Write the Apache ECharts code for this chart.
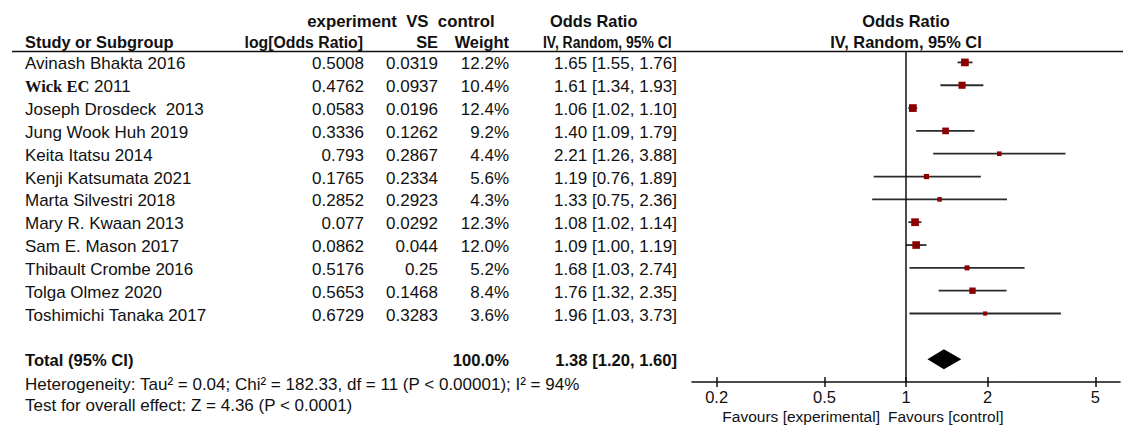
<!DOCTYPE html>
<html>
<head>
<meta charset="utf-8">
<script src="https://cdn.jsdelivr.net/npm/echarts@6/dist/echarts.min.js"></script>
<style>
html,body{margin:0;padding:0;background:#fff;}
#chart{width:1123px;height:425px;}
</style>
</head>
<body>
<div id="chart"></div>
<script>
// ---------- data ----------
const studies = ['Avinash Bhakta 2016','Wick EC 2011','Joseph Drosdeck  2013','Jung Wook Huh 2019','Keita Itatsu 2014','Kenji Katsumata 2021','Marta Silvestri 2018','Mary R. Kwaan 2013','Sam E. Mason 2017','Thibault Crombe 2016','Tolga Olmez 2020','Toshimichi Tanaka 2017'];
const logOR   = [0.5008,0.4762,0.0583,0.3336,0.793,0.1765,0.2852,0.077,0.0862,0.5176,0.5653,0.6729];
const seVals  = [0.0319,0.0937,0.0196,0.1262,0.2867,0.2334,0.2923,0.0292,0.044,0.25,0.1468,0.3283];
const weights = [12.2,10.4,12.4,9.2,4.4,5.6,4.3,12.3,12.0,5.2,8.4,3.6];
const orVals  = [1.65,1.61,1.06,1.40,2.21,1.19,1.33,1.08,1.09,1.68,1.76,1.96];
const ciLow   = [1.55,1.34,1.02,1.09,1.26,0.76,0.75,1.02,1.00,1.03,1.32,1.03];
const ciHigh  = [1.76,1.93,1.10,1.79,3.88,1.89,2.36,1.14,1.19,2.74,2.35,3.73];
const totalLabel = 'Total (95% CI)';
const totalWeight = 100.0;
const totalOR = 1.38, totalLow = 1.20, totalHigh = 1.60;
const heterogeneityText = 'Heterogeneity: Tau\u00b2 = 0.04; Chi\u00b2 = 182.33, df = 11 (P < 0.00001); I\u00b2 = 94%';
const overallText = 'Test for overall effect: Z = 4.36 (P < 0.0001)';
const axisTicks = [0.2, 0.5, 1, 2, 5];
const favoursLeft = 'Favours [experimental]';
const favoursRight = 'Favours [control]';

// ---------- styling ----------
const TXT = '#111';
const SANS = '"Liberation Sans", Arial, sans-serif';
const fReg = '17px ' + SANS;
const fBold = 'bold 16.4px ' + SANS;
const totalRow = studies.length + 1;

const fmtCI = (o, l, h) => o.toFixed(2) + ' [' + l.toFixed(2) + ', ' + h.toFixed(2) + ']';

// table rows built from the arrays
const tableRows = studies.map((s, i) => ({
  row: i, name: s, lg: String(logOR[i]), se: String(seVals[i]),
  w: weights[i].toFixed(1) + '%', ci: fmtCI(orVals[i], ciLow[i], ciHigh[i]), bold: false
}));
tableRows.push({row: totalRow, name: totalLabel, lg: '', se: '', w: totalWeight.toFixed(1) + '%',
  ci: fmtCI(totalOR, totalLow, totalHigh), bold: true});

const columns = [
  {key: 'name', x: 25, align: 'left'},
  {key: 'lg', x: 364, align: 'right'},
  {key: 'se', x: 438, align: 'right'},
  {key: 'w', x: 509, align: 'right'},
  {key: 'ci', x: 677, align: 'right'}
];

const tickVals = axisTicks.map(Math.log10);

const chart = echarts.init(document.getElementById('chart'), null, {renderer: 'svg'});

const option = {
  animation: false,
  backgroundColor: '#fff',
  grid: [
    {left: 692, right: 3, top: 51, bottom: 43},
    {left: 0, width: 700, top: 51 - 2 * (331 / 14.5), bottom: 43}
  ],
  xAxis: [
    {
      gridIndex: 0, type: 'value', min: -0.79, max: 0.79, position: 'bottom',
      splitLine: {show: false},
      axisLine: {show: true, onZero: false, lineStyle: {color: '#111', width: 1.6}},
      axisTick: {show: true, customValues: tickVals, length: 5, lineStyle: {color: '#111', width: 1.5}},
      axisLabel: {show: true, customValues: tickVals, margin: 6,
        color: TXT, fontSize: 16.5, fontFamily: SANS,
        formatter: v => String(Number(Math.pow(10, v).toPrecision(3)))}
    },
    {
      gridIndex: 0, type: 'value', min: -0.79, max: 0.79, position: 'bottom',
      splitLine: {show: false}, axisLine: {show: false, onZero: false}, axisLabel: {show: false},
      axisTick: {show: true, inside: true, customValues: tickVals, length: 5, lineStyle: {color: '#111', width: 1.5}}
    },
    {gridIndex: 1, type: 'value', min: 0, max: 700, show: false}
  ],
  yAxis: [
    {gridIndex: 0, type: 'value', inverse: true, min: -0.5, max: 14, show: false},
    {gridIndex: 1, type: 'value', inverse: true, min: -2.5, max: 14, show: false}
  ],
  graphic: [
    {type: 'line', silent: true, shape: {x1: 12, y1: 51.5, x2: 1123, y2: 51.5}, style: {stroke: '#111', lineWidth: 1.6}},
    {type: 'text', x: 401, y: 21, style: {text: 'experiment  VS  control', font: 'bold 16.8px ' + SANS, fill: TXT, align: 'center', verticalAlign: 'middle'}},
    {type: 'text', x: 550, y: 21, style: {text: 'Odds Ratio', font: fBold, fill: TXT, align: 'left', verticalAlign: 'middle'}},
    {type: 'text', x: 25, y: 42, style: {text: 'Study or Subgroup', font: fBold, fill: TXT, align: 'left', verticalAlign: 'middle'}},
    {type: 'text', x: 363, y: 42, style: {text: 'log[Odds Ratio]', font: 'bold 15.8px ' + SANS, fill: TXT, align: 'right', verticalAlign: 'middle'}},
    {type: 'text', x: 438, y: 42, style: {text: 'SE', font: fBold, fill: TXT, align: 'right', verticalAlign: 'middle'}},
    {type: 'text', x: 509, y: 42, style: {text: 'Weight', font: fBold, fill: TXT, align: 'right', verticalAlign: 'middle'}},
    {type: 'text', x: 543, y: 42, scaleX: 0.85, originX: 0, originY: 0, style: {text: 'IV, Random, 95% CI', font: fBold, fill: TXT, align: 'left', verticalAlign: 'middle'}},
    {type: 'text', x: 906, y: 21, style: {text: 'Odds Ratio', font: fBold, fill: TXT, align: 'center', verticalAlign: 'middle'}},
    {type: 'text', x: 906, y: 42, style: {text: 'IV, Random, 95% CI', font: fBold, fill: TXT, align: 'center', verticalAlign: 'middle'}},
    {type: 'text', x: 25, y: 384, style: {text: heterogeneityText, font: fReg, fill: TXT, align: 'left', verticalAlign: 'middle'}},
    {type: 'text', x: 25, y: 405, style: {text: overallText, font: fReg, fill: TXT, align: 'left', verticalAlign: 'middle'}},
    {type: 'text', x: 880, y: 416, style: {text: favoursLeft, font: '15.5px ' + SANS, fill: TXT, align: 'right', verticalAlign: 'middle'}},
    {type: 'text', x: 888, y: 416, style: {text: favoursRight, font: '15.5px ' + SANS, fill: TXT, align: 'left', verticalAlign: 'middle'}}
  ],
  series: [
    // study CIs and weight squares
    {
      type: 'custom', xAxisIndex: 0, yAxisIndex: 0, silent: true,
      data: studies.map((s, i) => [Math.log10(ciLow[i]), Math.log10(ciHigh[i]), Math.log10(orVals[i]), i, weights[i]]),
      encode: {x: [0, 1, 2], y: 3},
      renderItem: function (params, api) {
        const y = api.value(3);
        const a = api.coord([api.value(0), y]);
        const b = api.coord([api.value(1), y]);
        const c = api.coord([api.value(2), y]);
        const s = 2.2 * Math.sqrt(api.value(4));
        return {type: 'group', children: [
          {type: 'line', shape: {x1: a[0], y1: a[1], x2: b[0], y2: b[1]}, style: {stroke: '#2b2b2b', lineWidth: 1.8}},
          {type: 'rect', shape: {x: c[0] - s / 2, y: c[1] - s / 2, width: s, height: s}, style: {fill: '#8b0000'}}
        ]};
      }
    },
    // pooled diamond + line of no effect
    {
      type: 'custom', xAxisIndex: 0, yAxisIndex: 0, silent: true,
      data: [[Math.log10(totalLow), Math.log10(totalHigh), Math.log10(totalOR), totalRow]],
      encode: {x: [0, 1, 2], y: 3},
      renderItem: function (params, api) {
        const y = api.value(3);
        const a = api.coord([api.value(0), y]);
        const b = api.coord([api.value(1), y]);
        const c = api.coord([api.value(2), y]);
        const h = api.size([0, 0.44])[1];
        return {type: 'polygon', shape: {points: [[a[0], a[1]], [c[0], c[1] - h], [b[0], b[1]], [c[0], c[1] + h]]}, style: {fill: '#000'}};
      },
      markLine: {
        silent: true, symbol: ['none', 'none'], label: {show: false},
        lineStyle: {color: '#111', width: 1.5, type: 'solid'},
        data: [{xAxis: 0}]
      }
    },
    // table text
    {
      type: 'custom', xAxisIndex: 2, yAxisIndex: 1, silent: true,
      data: tableRows.map(r => [0, r.row]),
      encode: {x: 0, y: 1},
      renderItem: function (params, api) {
        const r = tableRows[params.dataIndex];
        const y = api.value(1);
        const children = columns.map(col => {
          const p = api.coord([col.x, y]);
          const text = r[col.key];
          const style = {text: text, font: r.bold ? 'bold 16.6px ' + SANS : fReg, fill: TXT, align: col.align, verticalAlign: 'middle'};
          if (col.key === 'name' && text.indexOf('Wick EC') === 0) {
            style.text = '{serif|Wick EC}' + text.slice(7);
            style.rich = {serif: {fontFamily: '"Liberation Serif", "Times New Roman", serif', fontWeight: 'bold', fontSize: 16.5, fill: TXT}};
          }
          return {type: 'text', x: p[0], y: p[1] + 1.5, style: style};
        });
        return {type: 'group', children: children};
      }
    }
  ]
};

chart.setOption(option);
</script>
</body>
</html>
